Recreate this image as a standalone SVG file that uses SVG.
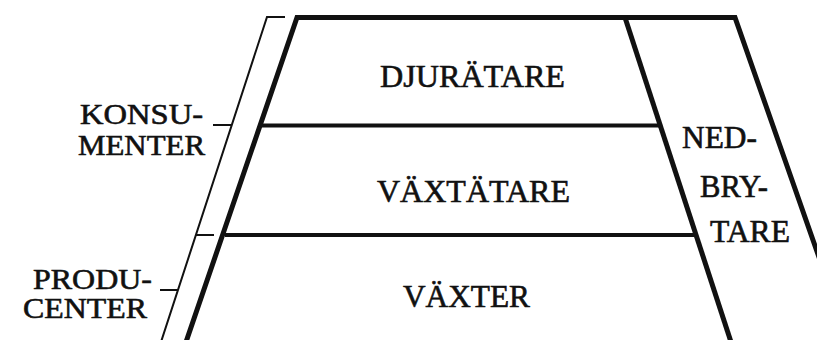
<svg xmlns="http://www.w3.org/2000/svg" width="817" height="340" viewBox="0 0 817 340">
<style>
.t{font-family:"Liberation Serif","Times New Roman",serif;font-size:31px;fill:#111;stroke:#111;stroke-width:0.6}
.s{font-size:29px}
.thick{stroke:#111;stroke-width:5;fill:none;stroke-linejoin:miter}
.mid{stroke:#111;stroke-width:4;fill:none}
.thin{stroke:#111;stroke-width:2;fill:none}
</style>
<rect width="817" height="340" fill="#fff"/>
<g id="connectors">
<path class="thick" d="M186,342 L297,17.5 L735,17.5 L820,260"/>
<path class="thick" d="M625,17.5 L731,342"/>
<path class="mid" d="M262,125.5 L659,125.5"/>
<path class="mid" d="M225,235 L695,235"/>
<path class="thin" d="M285,17 L267,17 L161,342"/>
<path class="thin" d="M213,125 L232,125"/>
<path class="thin" d="M196,235 L214,235"/>
<path class="thin" d="M160,290 L178,290"/>
</g>
<g id="djuratare"><text class="t" x="380" y="87" textLength="185" lengthAdjust="spacingAndGlyphs">DJURÄTARE</text></g>
<g id="vaxtatare"><text class="t" x="377" y="202" textLength="193" lengthAdjust="spacingAndGlyphs">VÄXTÄTARE</text></g>
<g id="vaxter"><text class="t" x="403" y="307" textLength="127" lengthAdjust="spacingAndGlyphs">VÄXTER</text></g>
<g id="konsumenter">
<text class="t s" x="80" y="124" textLength="123" lengthAdjust="spacingAndGlyphs">KONSU-</text>
<text class="t s" x="78" y="155" textLength="127" lengthAdjust="spacingAndGlyphs">MENTER</text>
</g>
<g id="producenter">
<text class="t s" x="33" y="289" textLength="119" lengthAdjust="spacingAndGlyphs">PRODU-</text>
<text class="t s" x="23" y="318" textLength="124" lengthAdjust="spacingAndGlyphs">CENTER</text>
</g>
<g id="nedbrytare">
<text class="t" x="682" y="148" textLength="75" lengthAdjust="spacingAndGlyphs">NED-</text>
<text class="t" x="700" y="197" textLength="68" lengthAdjust="spacingAndGlyphs">BRY-</text>
<text class="t" x="710" y="242" textLength="80" lengthAdjust="spacingAndGlyphs">TARE</text>
</g>
</svg>
